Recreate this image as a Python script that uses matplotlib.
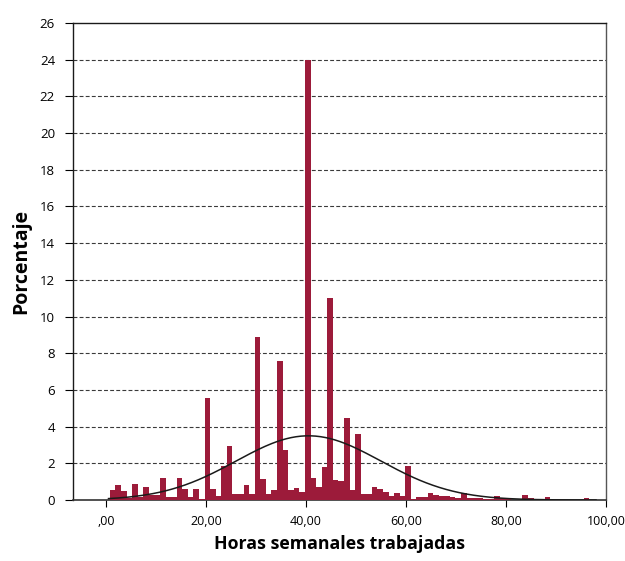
import numpy as np
import matplotlib.pyplot as plt

# histogram bins (hours) and percentage per bin
bin_start = 0.76
bin_width = 1.115
porcentaje = [
    0.54, 0.80, 0.50, 0.10, 0.87, 0.15, 0.70, 0.25, 0.30, 1.20,
    0.18, 0.18, 1.20, 0.60, 0.18, 0.60, 0.05, 5.57, 0.58, 0.23,
    1.85, 2.96, 0.35, 0.33, 0.82, 0.33, 8.90, 1.14, 0.35, 0.54,
    7.57, 2.72, 0.54, 0.65, 0.45, 24.0, 1.18, 0.69, 1.80, 11.0,
    1.09, 1.06, 4.47, 0.55, 3.60, 0.33, 0.33, 0.69, 0.60, 0.45,
    0.22, 0.37, 0.22, 1.84, 0.03, 0.15, 0.15, 0.36, 0.30, 0.20,
    0.20, 0.15, 0.12, 0.36, 0.12, 0.10, 0.10, 0.05, 0.05, 0.20,
    0.10, 0.10, 0.00, 0.00, 0.25, 0.10, 0.00, 0.00, 0.15, 0.00,
    0.00, 0.00, 0.00, 0.00, 0.00, 0.10,
]

# fitted normal curve parameters
media = 40.5
desv = 14.5
pico = 3.5

xticks = [0, 20, 40, 60, 80, 100]
xticklabels = [',00', '20,00', '40,00', '60,00', '80,00', '100,00']
yticks = list(range(0, 27, 2))

plt.rcParams['font.family'] = ['Open Sans', 'DejaVu Sans']

fig = plt.figure(figsize=(6.25, 5.61), dpi=100)
ax = fig.add_axes([0.1168, 0.1087, 0.8528, 0.8503])

lefts = bin_start + bin_width * np.arange(len(porcentaje))
ax.bar(lefts, porcentaje, width=bin_width, align='edge',
       color='#9c1b3a', linewidth=0, zorder=3)

for y in yticks[1:-1]:
    ax.axhline(y, color='#3a3a3a', linewidth=0.8, dashes=(3.5, 2), zorder=1)

xs = np.linspace(0.5, 98, 300)
curva = pico * np.exp(-(xs - media) ** 2 / (2 * desv ** 2))
ax.plot(xs, curva, color='#1a1a1a', linewidth=1.1, zorder=4)

ax.set_xlim(-6.6, 100)
ax.set_ylim(0, 26)
ax.set_xticks(xticks)
ax.set_xticklabels(xticklabels, fontsize=9)
ax.set_yticks(yticks)
ax.set_yticklabels([str(v) for v in yticks], fontsize=9.5)
ax.tick_params(axis='y', length=6, width=0.8, pad=7)
ax.tick_params(axis='x', length=5, width=0.8, pad=6)

for s in ['left', 'top']:
    ax.spines[s].set_color('#1a1a1a')
    ax.spines[s].set_linewidth(1.0)
ax.spines['right'].set_color('#555555')
ax.spines['right'].set_linewidth(1.0)
ax.spines['bottom'].set_color('#333333')
ax.spines['bottom'].set_linewidth(1.2)

ax.set_xlabel('Horas semanales trabajadas', fontsize=12.8, fontweight='bold', labelpad=5)
ax.set_ylabel('Porcentaje', fontsize=14, fontweight='bold', labelpad=6)

fig.savefig('out.png', dpi=100)
